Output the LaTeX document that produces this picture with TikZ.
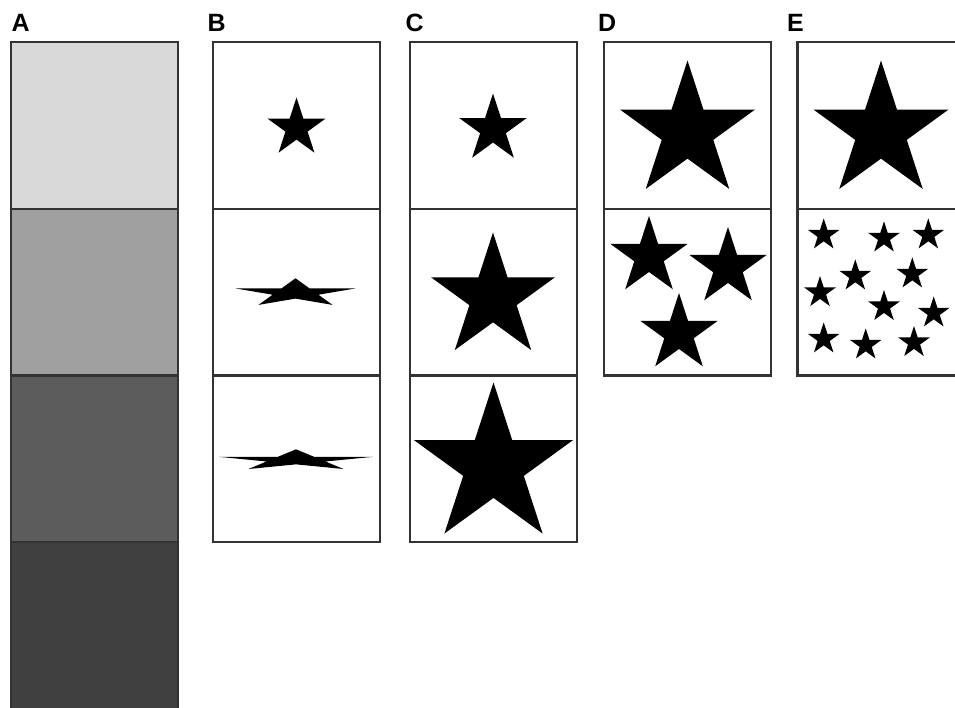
\documentclass[tikz,border=0pt]{standalone}
\usepackage{fontspec}
\setmainfont{Liberation Sans}[BoldFont={Liberation Sans Bold}]
\definecolor{edge}{HTML}{333333}
\definecolor{grayA}{HTML}{D9D9D9}
\definecolor{grayB}{HTML}{A0A0A0}
\definecolor{grayC}{HTML}{5C5C5C}
\definecolor{grayD}{HTML}{404040}
\tikzset{
  panel/.style={draw=edge, line width=2.2pt, fill=white},
  lbl/.style={anchor=base west, inner sep=0pt, font=\bfseries\fontsize{25}{30}\selectfont},
  pics/mystar/.style={code={
    \fill[black] (90:1) -- (126:0.382) -- (162:1) -- (198:0.382) -- (234:1) -- (270:0.382)
      -- (306:1) -- (342:0.382) -- (18:1) -- (54:0.382) -- cycle;}}
}
\begin{document}
\begin{tikzpicture}[x=1pt,y=1pt]
\useasboundingbox (0,0) rectangle (955,-708);
\fill[white] (0,0) rectangle (955,-708);
% labels
\node[lbl] (lA) at (11.5,-31.7) {A};
\node[lbl] (lB) at (207.5,-31.7) {B};
\node[lbl] (lC) at (405.5,-31.7) {C};
\node[lbl] (lD) at (598,-31.7) {D};
\node[lbl] (lE) at (787,-31.7) {E};
% column A
\draw[panel, fill=grayA] (11,-42) rectangle (178,-209);
\draw[panel, fill=grayB] (11,-209) rectangle (178,-375.5);
\draw[panel, fill=grayC] (11,-375.5) rectangle (178,-542);
\draw[panel, fill=grayD] (11,-542) rectangle (178,-708.7);
% column B
\draw[panel] (213,-42) rectangle (380,-209);
\draw[panel] (213,-209) rectangle (380,-375.5);
\draw[panel] (213,-375.5) rectangle (380,-542);
\pic[scale=30.5] at (296.5,-128) {mystar};
\pic[xscale=63,yscale=14.7] at (295.5,-293) {mystar};
\pic[xscale=81,yscale=10.9] at (296,-460.2) {mystar};
% column C
\draw[panel] (410,-42) rectangle (577,-209);
\draw[panel] (410,-209) rectangle (577,-375.5);
\draw[panel] (410,-375.5) rectangle (577,-542);
\pic[scale=35.5] at (493,-129) {mystar};
\pic[scale=65] at (493,-297.5) {mystar};
\pic[scale=83.5] at (493.5,-466) {mystar};
% column D
\draw[panel] (604,-42) rectangle (771,-209);
\draw[panel] (604,-209) rectangle (771,-375.5);
\pic[scale=71] at (687.5,-131.5) {mystar};
\pic[scale=40.5] at (649,-256.5) {mystar};
\pic[scale=40.5] at (728,-267.5) {mystar};
\pic[scale=40.5] at (679,-333.5) {mystar};
% column E
\draw[panel] (797.5,-42) rectangle (964.5,-209);
\draw[panel] (797.5,-209) rectangle (964.5,-375.5);
\pic[scale=71] at (881,-131.5) {mystar};
\foreach \sx/\sy in {823.7/235, 884/238, 928.3/235, 855.3/276, 912.3/274, 820/292.6,
                     884/306.6, 933.7/313, 823.7/339, 865.7/345, 914/342.6}
  \pic[scale=16.6] at (\sx,-\sy) {mystar};
\end{tikzpicture}
\end{document}
